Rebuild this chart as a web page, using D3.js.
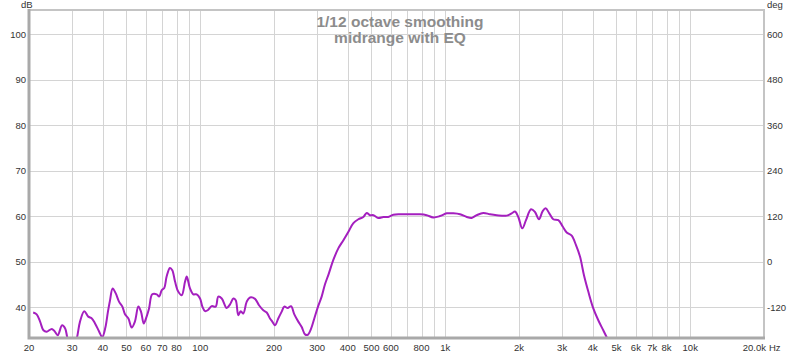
<!DOCTYPE html>
<html>
<head>
<meta charset="utf-8">
<script src="https://cdn.jsdelivr.net/npm/d3@7"></script>
<style>
  html, body { margin: 0; padding: 0; background: #fff; }
  svg { display: block; font-family: "Liberation Sans", Arial, sans-serif; }
  .grid line { stroke: #d4d4d4; stroke-width: 1; shape-rendering: crispEdges; }
  .tick-label { font-size: 9.5px; fill: #333; }
  .title { font-size: 15.5px; font-weight: bold; fill: #8c8c8c; }
  .trace { fill: none; stroke: #a41fbf; stroke-width: 2; stroke-linejoin: round; }
</style>
</head>
<body>
<svg id="chart" width="800" height="355"></svg>
<script>
/* REW-style SPL plot, 1/12 octave smoothed midrange response */

const freqs = [20.8, 21.5, 22.2, 22.9, 23.6, 24.8, 25.5, 26.2, 27.3, 28.1, 28.7, 30.0, 31.3, 32.3, 33.6, 34.9,
  36.1, 37.2, 38.6, 39.8, 41.0, 42.0, 42.8, 43.9, 45.2, 46.6, 48.1, 49.3, 50.9, 52.5, 54.1, 55.9, 57.3, 58.8,
  60.4, 61.8, 63.7, 66.4, 68.0, 69.6, 71.3, 72.9, 75.2, 76.9, 78.9, 81.3, 84.0, 86.7, 88.1, 90.8, 93.7, 96.7,
  99.8, 102, 104.6, 107.3, 111.4, 115.6, 118.5, 122.4, 128.2, 132.3, 136.5, 139.6, 143, 146.3, 149.9, 154.8,
  159.6, 167.3, 173.7, 180.9, 186.8, 192.6, 196.8, 201.9, 208.2, 215, 220.3, 227.5, 234.7, 242.1, 251.3,
  259.5, 267.7, 274.5, 283.2, 292.1, 302, 313, 323, 334, 349, 366, 384, 402, 421, 442, 463, 478, 493, 509,
  533, 559, 585, 614, 654, 696, 741, 789, 840, 894, 952, 1014, 1079, 1149, 1224, 1282, 1344, 1430, 1523,
  1622, 1782, 1867, 1926, 1987, 2063, 2136, 2239, 2324, 2413, 2499, 2570, 2659, 2761, 2894, 3016, 3131,
  3282, 3417, 3548, 3683, 3836, 4021, 4214, 4416, 4586, 4700];
const spl = [38.8, 38.4, 36.8, 34.9, 34.6, 35.2, 34.6, 33.8, 36.0, 35.3, 33.2, 30.5, 33.0, 36.8, 39.1, 37.9,
  37.5, 36.4, 34.7, 33.4, 35.5, 39.0, 41.4, 44.1, 43.0, 41.2, 40.1, 38.4, 37.5, 35.5, 36.8, 40.1, 39.0, 36.4,
  37.9, 39.7, 42.8, 42.8, 42.3, 43.7, 44.2, 46.7, 48.6, 48.1, 45.6, 43.4, 42.6, 45.6, 46.7, 44.1, 42.8, 42.8,
  41.9, 40.1, 39.1, 39.3, 40.2, 40.1, 42.3, 41.9, 39.8, 40.6, 41.9, 41.5, 38.2, 39.1, 38.6, 41.2,
  42.1, 41.8, 40.4, 39.3, 38.8, 37.5, 36.8, 36.0, 37.5, 39.0, 40.1, 39.8, 40.2, 38.4, 36.8,
  35.6, 34.0, 33.9, 35.2, 37.5, 40.0, 42.3, 45.0, 47.2, 50.3, 52.9, 54.7, 56.5, 58.4, 59.3, 59.8, 60.7, 60.2, 60.2,
  59.6, 59.8, 59.8, 60.3, 60.4, 60.4, 60.4, 60.4, 60.2, 59.7, 60.0, 60.6, 60.6, 60.4, 59.8, 59.6, 60.2, 60.7, 60.4,
  60.2, 60.1, 60.6, 61.0, 59.8, 57.3, 59.1, 61.5, 60.9, 59.3, 61.1, 61.7, 60.6, 59.3, 59.1, 57.7, 56.4,
  55.7, 53.6, 51.1, 47.0, 43.4, 39.7, 37.1, 34.9, 33.1, 32.0];

const gridFreqs = [30, 40, 50, 60, 70, 80, 90, 100, 200, 300, 400, 500, 600, 700, 800, 900,
  1000, 2000, 3000, 4000, 5000, 6000, 7000, 8000, 9000, 10000];
const xTickVals = [20, 30, 40, 50, 60, 70, 80, 100, 200, 300, 400, 500, 600, 800,
  1000, 2000, 3000, 4000, 5000, 6000, 7000, 8000, 10000];
const xTickText = ['20', '30', '40', '50', '60', '70', '80', '100', '200', '300', '400', '500', '600', '800',
  '1k', '2k', '3k', '4k', '5k', '6k', '7k', '8k', '10k'];
const dbTicks = [40, 50, 60, 70, 80, 90, 100];
const degTicks = [-120, 0, 120, 240, 360, 480, 600];
const titleLines = ['1/12 octave smoothing', 'midrange with EQ'];

const M = { left: 29, right: 764, top: 10, bottom: 338 };
const DB_MIN = 33.2, DB_MAX = 105.3;

const svg = d3.select('#chart');

const x = d3.scaleLog().domain([20, 20000]).range([M.left, M.right]);
const y = d3.scaleLinear().domain([DB_MIN, DB_MAX]).range([M.bottom, M.top]);
// phase axis: 120 deg per 10 dB, 0 deg sits on 50 dB
const yDeg = d3.scaleLinear().domain([(DB_MIN - 50) * 12, (DB_MAX - 50) * 12]).range([M.bottom, M.top]);

svg.append('defs').append('clipPath').attr('id', 'plot-clip')
  .append('rect')
  .attr('x', M.left).attr('y', M.top)
  .attr('width', M.right - M.left).attr('height', M.bottom - M.top);

// grid
const grid = svg.append('g').attr('class', 'grid');
grid.selectAll('line.v').data(gridFreqs).join('line').attr('class', 'v')
  .attr('x1', (d) => Math.round(x(d)) + 0.5).attr('x2', (d) => Math.round(x(d)) + 0.5)
  .attr('y1', M.top).attr('y2', M.bottom);
grid.selectAll('line.h').data(dbTicks).join('line').attr('class', 'h')
  .attr('x1', M.left).attr('x2', M.right)
  .attr('y1', (d) => Math.round(y(d)) + 0.5).attr('y2', (d) => Math.round(y(d)) + 0.5);

// title
svg.append('g').selectAll('text').data(titleLines).join('text')
  .attr('class', 'title')
  .attr('x', 400).attr('y', (d, i) => 27 + i * 16)
  .attr('text-anchor', 'middle')
  .text((d) => d);

// trace
const line = d3.line()
  .x((d, i) => x(freqs[i]))
  .y((d) => y(d))
  .curve(d3.curveCatmullRom.alpha(0.5));
svg.append('path')
  .attr('class', 'trace')
  .attr('clip-path', 'url(#plot-clip)')
  .attr('d', line(spl));

// frame: light top/right, heavier left/bottom
svg.append('rect')
  .attr('x', M.left).attr('y', M.top)
  .attr('width', M.right - M.left).attr('height', M.bottom - M.top)
  .attr('fill', 'none').attr('stroke', '#c4c4c4').attr('stroke-width', 2);
svg.append('path')
  .attr('d', `M${M.left},${M.top - 1}V${M.bottom}H${M.right + 1}`)
  .attr('fill', 'none').attr('stroke', '#a9a9a9').attr('stroke-width', 3);

// left axis labels
svg.append('g').selectAll('text').data(dbTicks).join('text')
  .attr('class', 'tick-label')
  .attr('x', M.left - 3).attr('y', (d) => y(d) + 3.5)
  .attr('text-anchor', 'end')
  .text((d) => d);
svg.append('text').attr('class', 'tick-label')
  .attr('x', 21).attr('y', 8).text('dB');

// right axis labels
svg.append('g').selectAll('text').data(degTicks).join('text')
  .attr('class', 'tick-label')
  .attr('x', M.right + 3).attr('y', (d) => yDeg(d) + 3.5)
  .text((d) => d);
svg.append('text').attr('class', 'tick-label')
  .attr('x', M.right + 3).attr('y', 8).text('deg');

// bottom axis labels
svg.append('g').selectAll('text').data(xTickVals).join('text')
  .attr('class', 'tick-label')
  .attr('x', (d) => x(d)).attr('y', 351)
  .attr('text-anchor', 'middle')
  .text((d, i) => xTickText[i]);
svg.append('text').attr('class', 'tick-label')
  .attr('x', M.right + 2).attr('y', 351).attr('text-anchor', 'end').text('20.0k');
svg.append('text').attr('class', 'tick-label')
  .attr('x', M.right + 5).attr('y', 351).text('Hz');
</script>
</body>
</html>
